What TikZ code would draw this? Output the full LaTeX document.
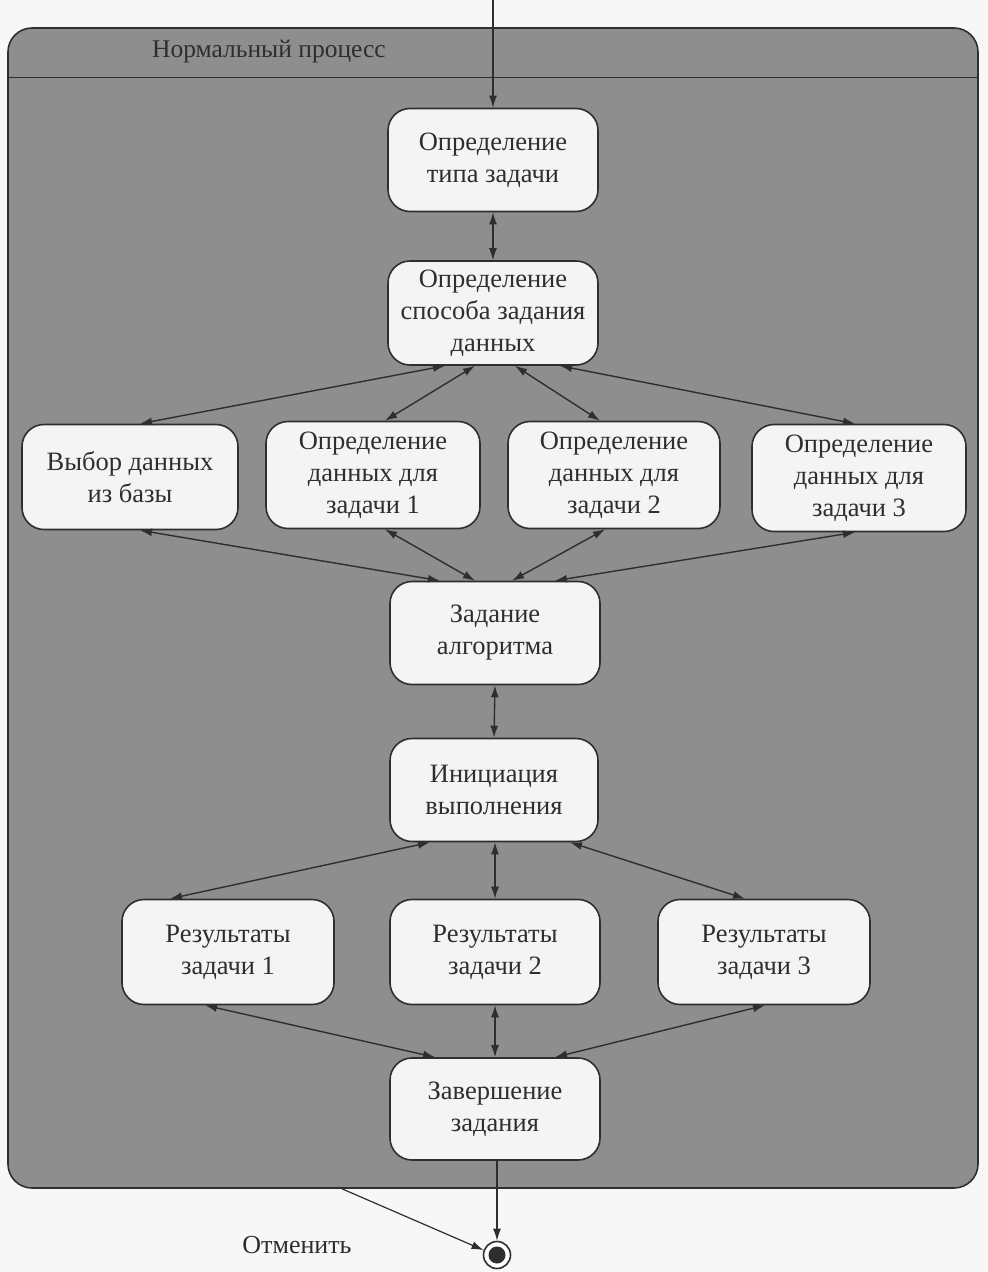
\documentclass[tikz,border=0pt]{standalone}
\usepackage{fontspec}
\setmainfont{Liberation Serif}
\usetikzlibrary{arrows.meta}
\definecolor{bgpage}{HTML}{F7F7F7}
\definecolor{procfill}{HTML}{8E8E8E}
\definecolor{boxfill}{HTML}{F4F4F4}
\definecolor{ink}{HTML}{2E2E2E}
\tikzset{
  procframe/.style={draw=ink, line width=1.6pt, fill=procfill, rounded corners=24pt},
  state/.style={draw=ink, line width=1.6pt, fill=boxfill, rounded corners=22pt,
    minimum width=210pt, minimum height=103pt, align=center, text=ink,
    font=\fontsize{26.5}{32}\selectfont, inner sep=0pt},
  conn/.style={draw=ink, line width=1.4pt, {Latex[length=12pt,width=8pt]}-{Latex[length=12pt,width=8pt]}},
  flow/.style={draw=ink, line width=1.2pt, -{Latex[length=12pt,width=8pt]}},
  lbl/.style={text=ink, font=\fontsize{26}{30}\selectfont, inner sep=0pt},
}
\begin{document}
\begin{tikzpicture}[x=1pt, y=-1pt]
\fill[bgpage] (0,0) rectangle (988,1272);
\useasboundingbox (0,0) rectangle (988,1272);

\node[procframe, minimum width=970pt, minimum height=1160pt] (proc) at (493,608) {};
\draw[ink, line width=1.4pt] ([yshift=-50pt]proc.north west) -- ([yshift=-50pt]proc.north east);
\node[lbl, font=\fontsize{25.5}{28}\selectfont, anchor=west] (title) at (152,51) {Нормальный процесс};

\node[state] (b1) at (493,160) {Определение\\типа задачи};
\node[state, minimum height=104pt] (b2) at (493,313) {Определение\\способа задания\\данных};
\node[state, minimum width=216pt, minimum height=105pt] (vyb) at (130,477) {Выбор данных\\из базы};
\node[state, minimum width=214pt, minimum height=107pt] (d1) at (373,475) {Определение\\данных для\\задачи 1};
\node[state, minimum width=212pt, minimum height=107pt] (d2) at (614,475) {Определение\\данных для\\задачи 2};
\node[state, minimum width=214pt, minimum height=107pt] (d3) at (859,478) {Определение\\данных для\\задачи 3};
\node[state] (alg) at (495,633) {Задание\\алгоритма};
\node[state, minimum width=208pt] (init) at (494,790) {Инициация\\выполнения};
\node[state, minimum width=212pt, minimum height=105pt] (r1) at (228,952) {Результаты\\задачи 1};
\node[state, minimum height=105pt] (r2) at (495,952) {Результаты\\задачи 2};
\node[state, minimum width=212pt, minimum height=105pt] (r3) at (764,952) {Результаты\\задачи 3};
\node[state, minimum height=102pt] (fin) at (495,1109) {Завершение\\задания};

\node[draw=ink, line width=1.6pt, fill=white, circle, minimum size=27pt, inner sep=0pt] (end) at (497,1255) {};
\fill[ink] (end.center) circle (8.5pt);

\coordinate (top) at (493,0);
\draw[flow] (top) -- (b1.north);

\draw[conn] (b1.south) -- (b2.north);
\draw[conn] ([xshift=-48pt]b2.south) -- ([xshift=10pt]vyb.north);
\draw[conn] ([xshift=-18pt]b2.south) -- ([xshift=12pt]d1.north);
\draw[conn] ([xshift=22pt]b2.south) -- ([xshift=-14pt]d2.north);
\draw[conn] ([xshift=67pt]b2.south) -- ([xshift=-4pt]d3.north);

\draw[conn] ([xshift=10pt]vyb.south) -- ([xshift=-55pt]alg.north);
\draw[conn] ([xshift=12pt]d1.south) -- ([xshift=-20pt]alg.north);
\draw[conn] ([xshift=-9pt]d2.south) -- ([xshift=17pt]alg.north);
\draw[conn] ([xshift=-4pt]d3.south) -- ([xshift=60pt]alg.north);

\draw[conn] (alg.south) -- (init.north);

\draw[conn] ([xshift=-64pt]init.south) -- ([xshift=-58pt]r1.north);
\draw[conn] ([xshift=1pt]init.south) -- (r2.north);
\draw[conn] ([xshift=76pt]init.south) -- ([xshift=-19pt]r3.north);

\draw[conn] ([xshift=-23pt]r1.south) -- ([xshift=-60pt]fin.north);
\draw[conn] (r2.south) -- (fin.north);
\draw[conn] ([xshift=1pt]r3.south) -- ([xshift=60pt]fin.north);

\draw[flow] ([xshift=2pt]fin.south) -- (end.north);
\coordinate (cancel) at ([xshift=-151pt]proc.south);
\draw[flow] (cancel) -- (end.160);
\node[lbl] (cancellbl) at (297,1245) {Отменить};
\end{tikzpicture}
\end{document}
